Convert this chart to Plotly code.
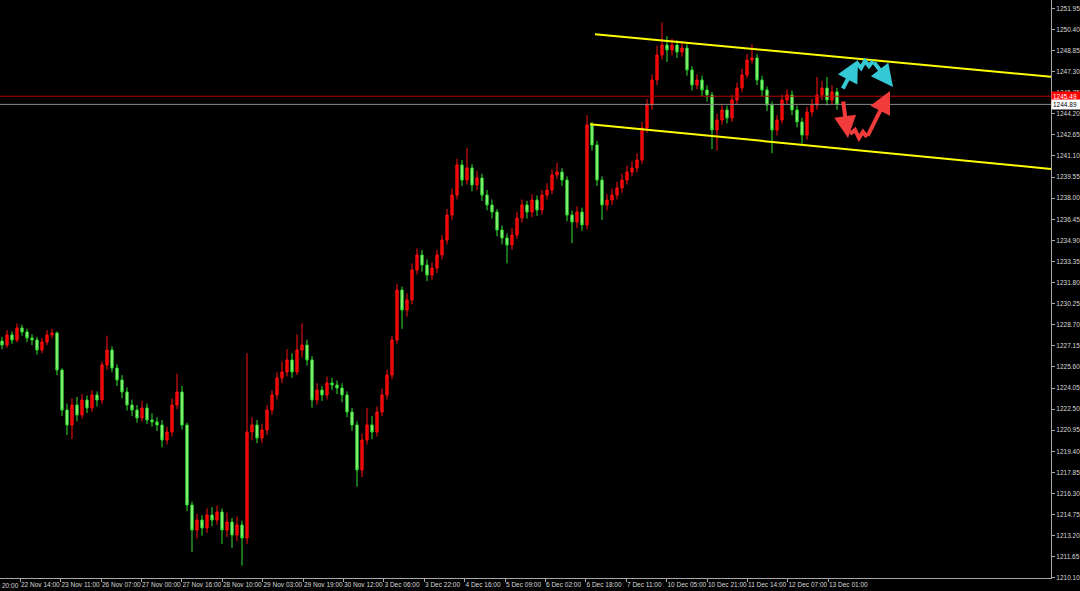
import plotly.graph_objects as go

# ---------------- data ----------------
open_ = [1227.5, 1227.21, 1227.95, 1227.58, 1228.46, 1228.17, 1227.73, 1227.58, 1226.84, 1227.43,
         1227.95, 1228.09, 1225.37, 1222.43, 1221.33, 1222.80, 1222.07, 1223.17, 1222.58, 1223.54,
         1223.17, 1225.74, 1226.84, 1225.52, 1224.64, 1223.76, 1222.80, 1222.43, 1221.85, 1222.58,
         1221.70, 1221.55, 1221.33, 1220.23, 1220.82, 1222.80, 1223.76, 1221.33, 1215.45, 1213.62,
         1214.35, 1213.76, 1214.72, 1214.35, 1214.94, 1213.62, 1214.20, 1213.25, 1213.98, 1213.03,
         1220.82, 1221.33, 1220.38, 1220.96, 1222.43, 1223.54, 1224.79, 1225.23, 1226.11, 1225.23,
         1226.84, 1227.21, 1226.11, 1223.17, 1223.90, 1223.54, 1224.42, 1224.27, 1224.05, 1223.54,
         1222.29, 1221.33, 1218.03, 1220.23, 1221.33, 1220.82, 1222.29, 1223.54, 1225.00, 1227.58,
         1231.25, 1229.78, 1230.52, 1232.72, 1233.82, 1233.09, 1232.35, 1232.87, 1233.82, 1234.92,
         1236.76, 1238.23, 1240.44, 1239.33, 1240.22, 1238.97, 1239.48, 1238.23, 1237.50, 1236.98,
         1235.66, 1235.07, 1234.56, 1235.29, 1236.54, 1237.50, 1236.98, 1237.86, 1237.13, 1238.23,
         1238.60, 1239.70, 1239.92, 1239.33, 1236.76, 1236.25, 1236.98, 1236.03, 1243.37, 1241.91,
         1239.33, 1237.50, 1237.86, 1238.23, 1238.75, 1239.33, 1239.92, 1240.22, 1240.80, 1243.15,
         1244.84, 1246.68, 1248.52, 1249.25, 1248.89, 1249.25, 1248.74, 1249.03, 1247.42, 1246.31,
         1246.68, 1245.95, 1245.58, 1243.01, 1243.74, 1244.48, 1243.89, 1245.21, 1246.09, 1247.05,
         1248.15, 1248.30, 1246.68, 1245.95, 1244.84, 1243.01, 1243.74, 1245.21, 1245.58, 1244.48,
         1243.60, 1242.64, 1244.33, 1244.84, 1245.58, 1246.09, 1245.21, 1245.80]

close = [1227.21, 1227.95, 1227.58, 1228.46, 1228.17, 1227.73, 1227.58, 1226.84, 1227.43, 1227.95,
         1228.09, 1225.37, 1222.43, 1221.33, 1222.80, 1222.07, 1223.17, 1222.58, 1223.54, 1223.17,
         1225.74, 1226.84, 1225.52, 1224.64, 1223.76, 1222.80, 1222.43, 1221.85, 1222.58, 1221.70,
         1221.55, 1221.33, 1220.23, 1220.82, 1222.80, 1223.76, 1221.33, 1215.45, 1213.62, 1214.35,
         1213.76, 1214.72, 1214.35, 1214.94, 1213.62, 1214.20, 1213.25, 1213.98, 1213.03, 1220.82,
         1221.33, 1220.38, 1220.96, 1222.43, 1223.54, 1224.79, 1225.23, 1226.11, 1225.23, 1226.84,
         1227.21, 1226.11, 1223.17, 1223.90, 1223.54, 1224.42, 1224.27, 1224.05, 1223.54, 1222.29,
         1221.33, 1218.03, 1220.23, 1221.33, 1220.82, 1222.29, 1223.54, 1225.00, 1227.58, 1231.25,
         1229.78, 1230.52, 1232.72, 1233.82, 1233.09, 1232.35, 1232.87, 1233.82, 1234.92, 1236.76,
         1238.23, 1240.44, 1239.33, 1240.22, 1238.97, 1239.48, 1238.23, 1237.50, 1236.98, 1235.66,
         1235.07, 1234.56, 1235.29, 1236.54, 1237.50, 1236.98, 1237.86, 1237.13, 1238.23, 1238.60,
         1239.70, 1239.92, 1239.33, 1236.76, 1236.25, 1236.98, 1236.03, 1243.37, 1241.91, 1239.33,
         1237.50, 1237.86, 1238.23, 1238.75, 1239.33, 1239.92, 1240.22, 1240.80, 1243.15, 1244.84,
         1246.68, 1248.52, 1249.25, 1248.89, 1249.25, 1248.74, 1249.03, 1247.42, 1246.31, 1246.68,
         1245.95, 1245.58, 1243.01, 1243.74, 1244.48, 1243.89, 1245.21, 1246.09, 1247.05, 1248.15,
         1248.30, 1246.68, 1245.95, 1244.84, 1243.01, 1243.74, 1245.21, 1245.58, 1244.48, 1243.60,
         1242.64, 1244.33, 1244.84, 1245.58, 1246.09, 1245.21, 1245.80, 1244.89]

high = [1227.8, 1228.3, 1228.2, 1228.8, 1228.7, 1228.4, 1228.0, 1227.8, 1227.7, 1228.3,
        1228.4, 1228.2, 1225.5, 1222.9, 1223.3, 1223.4, 1223.6, 1223.5, 1223.9, 1223.8,
        1226.0, 1227.9, 1227.1, 1225.8, 1225.0, 1224.1, 1223.2, 1222.8, 1223.1, 1222.9,
        1222.2, 1221.9, 1221.7, 1221.2, 1223.3, 1225.1, 1224.2, 1221.5, 1215.7, 1214.8,
        1214.7, 1215.2, 1215.3, 1215.4, 1215.2, 1214.9, 1214.5, 1214.6, 1214.3, 1226.6,
        1221.9, 1221.7, 1221.4, 1222.8, 1223.9, 1225.2, 1226.0, 1226.9, 1226.6, 1228.0,
        1228.8, 1227.6, 1226.4, 1224.4, 1224.2, 1224.9, 1224.8, 1224.6, 1224.4, 1223.8,
        1222.6, 1221.6, 1220.7, 1222.6, 1222.0, 1222.7, 1224.0, 1225.4, 1227.9, 1231.7,
        1231.5, 1231.0, 1233.2, 1234.3, 1234.2, 1233.5, 1233.3, 1234.2, 1235.3, 1237.2,
        1238.7, 1240.9, 1240.8, 1241.7, 1240.5, 1240.0, 1239.8, 1238.6, 1237.9, 1237.2,
        1236.0, 1235.4, 1235.8, 1237.0, 1237.9, 1237.8, 1238.3, 1238.2, 1238.6, 1239.1,
        1240.1, 1240.6, 1240.2, 1239.6, 1237.1, 1237.4, 1237.3, 1244.1, 1243.6, 1242.2,
        1239.6, 1238.3, 1238.7, 1239.2, 1239.8, 1240.4, 1240.7, 1241.3, 1243.6, 1245.3,
        1247.1, 1249.2, 1250.9, 1249.9, 1249.7, 1249.6, 1249.5, 1249.3, 1247.7, 1247.1,
        1247.0, 1246.3, 1245.8, 1244.2, 1244.9, 1244.8, 1245.6, 1246.5, 1247.5, 1248.6,
        1249.3, 1248.6, 1247.0, 1246.2, 1245.1, 1244.1, 1245.6, 1246.0, 1245.9, 1244.8,
        1243.9, 1244.7, 1245.3, 1246.9, 1246.6, 1246.9, 1246.3, 1246.1]

low = [1226.9, 1227.0, 1227.3, 1227.4, 1227.9, 1227.4, 1227.2, 1226.5, 1226.6, 1227.2,
       1227.7, 1225.0, 1222.0, 1220.6, 1220.3, 1221.6, 1221.8, 1222.2, 1222.3, 1222.7,
       1222.9, 1225.4, 1225.2, 1224.2, 1223.3, 1222.4, 1222.0, 1221.5, 1221.6, 1221.4,
       1221.2, 1220.9, 1219.7, 1219.9, 1220.5, 1222.5, 1221.0, 1215.0, 1212.0, 1213.0,
       1213.2, 1213.4, 1213.9, 1214.0, 1212.6, 1213.1, 1212.3, 1212.8, 1211.0, 1212.6,
       1220.2, 1220.0, 1220.0, 1220.6, 1222.1, 1223.2, 1224.4, 1224.9, 1224.8, 1225.0,
       1226.3, 1225.7, 1222.6, 1222.8, 1223.1, 1223.2, 1223.9, 1223.6, 1223.0, 1221.9,
       1220.9, 1216.8, 1217.5, 1219.9, 1220.3, 1220.5, 1222.0, 1223.2, 1224.7, 1227.3,
       1228.4, 1229.3, 1230.2, 1232.4, 1232.6, 1231.9, 1232.0, 1232.5, 1233.5, 1234.6,
       1236.4, 1237.9, 1238.9, 1239.0, 1238.5, 1238.6, 1237.8, 1237.1, 1236.5, 1235.2,
       1234.6, 1233.2, 1234.2, 1235.0, 1236.2, 1236.5, 1236.6, 1236.7, 1236.8, 1237.9,
       1238.3, 1239.4, 1238.9, 1236.3, 1234.7, 1235.8, 1235.6, 1235.7, 1241.5, 1238.9,
       1236.4, 1237.1, 1237.5, 1237.9, 1238.4, 1239.0, 1239.6, 1239.9, 1240.5, 1242.8,
       1244.5, 1246.3, 1248.2, 1248.0, 1248.5, 1248.3, 1248.4, 1247.0, 1245.9, 1246.0,
       1245.5, 1245.1, 1241.6, 1241.5, 1243.4, 1243.5, 1243.6, 1244.9, 1245.8, 1246.8,
       1247.9, 1246.3, 1245.5, 1244.4, 1241.3, 1242.6, 1243.5, 1244.9, 1244.1, 1243.2,
       1242.0, 1242.3, 1244.0, 1244.5, 1245.2, 1244.8, 1244.9, 1244.5]

bar_index = list(range(len(close)))

x_tick_index = [3.6, 11.7, 19.8, 27.8, 35.9, 44.0, 52.1, 60.2, 68.2, 76.3, 84.4,
                92.5, 100.6, 108.6, 116.7, 124.8, 132.9, 141.0, 149.0, 157.1, 165.2]
x_tick_text = ["22 Nov 14:00", "23 Nov 11:00", "26 Nov 07:00", "27 Nov 00:00", "27 Nov 16:00",
               "28 Nov 10:00", "29 Nov 03:00", "29 Nov 19:00", "30 Nov 12:00", "3 Dec 06:00",
               "3 Dec 22:00", "4 Dec 16:00", "5 Dec 09:00", "6 Dec 02:00", "6 Dec 18:00",
               "7 Dec 11:00", "10 Dec 05:00", "10 Dec 21:00", "11 Dec 14:00", "12 Dec 07:00",
               "13 Dec 01:00"]
y_tick_vals = [1210.10, 1211.65, 1213.20, 1214.75, 1216.30, 1217.85, 1219.40, 1220.95,
               1222.50, 1224.05, 1225.60, 1227.15, 1228.70, 1230.25, 1231.80, 1233.35,
               1234.90, 1236.45, 1238.00, 1239.55, 1241.10, 1242.65, 1244.20, 1245.75,
               1247.30, 1248.85, 1250.40, 1251.95]

upper_channel_x = [118.6, 209.8]
upper_channel_y = [1250.04, 1246.92]
lower_channel_x = [117.6, 209.8]
lower_channel_y = [1243.43, 1240.15]
ask_price = 1245.49
bid_price = 1244.89

# drawn arrows (chart objects)
cyan_up = [(168.0, 1245.95), (171.2, 1248.15)]
cyan_zig_x = [171.0, 171.8, 172.6, 173.4, 174.2]
cyan_zig_y = [1247.93, 1247.56, 1248.08, 1247.71, 1248.08]
cyan_down = [(174.2, 1248.08), (178.2, 1246.17)]
red_down = [(168.2, 1245.21), (169.2, 1242.42)]
red_zig_x = [169.6, 170.6, 171.4, 172.2, 173.0]
red_zig_y = [1242.71, 1243.01, 1242.42, 1242.86, 1242.49]
red_up = [(173.0, 1242.49), (177.6, 1245.87)]

# ---------------- figure ----------------
X_RANGE = [-0.4, 209.8]
Y_RANGE = [1210.09, 1252.56]
AXIS_FONT = dict(family="Liberation Sans, Arial, sans-serif", size=6.5, color="#d8d8d8")
CYAN = "#35c9d6"
ARROW_RED = "#f23c3c"

fig = go.Figure()

# ask / bid lines
fig.add_trace(go.Scatter(x=X_RANGE, y=[ask_price, ask_price], mode="lines",
                         line=dict(color="#b40000", width=1), hoverinfo="skip", showlegend=False))
fig.add_trace(go.Scatter(x=X_RANGE, y=[bid_price, bid_price], mode="lines",
                         line=dict(color="#8a8a8a", width=1), hoverinfo="skip", showlegend=False))

fig.add_trace(go.Candlestick(
    x=bar_index, open=open_, high=high, low=low, close=close,
    increasing=dict(line=dict(color="#ff1010", width=1), fillcolor="#e80000"),
    decreasing=dict(line=dict(color="#30e030", width=1), fillcolor="#a8f590"),
    whiskerwidth=0, showlegend=False, hoverinfo="skip"))

# channel lines
fig.add_trace(go.Scatter(x=upper_channel_x, y=upper_channel_y, mode="lines",
                         line=dict(color="#ffff00", width=2), hoverinfo="skip", showlegend=False))
fig.add_trace(go.Scatter(x=lower_channel_x, y=lower_channel_y, mode="lines",
                         line=dict(color="#ffff00", width=2), hoverinfo="skip", showlegend=False))

# zigzags of the drawn arrows
fig.add_trace(go.Scatter(x=cyan_zig_x, y=cyan_zig_y, mode="lines",
                         line=dict(color=CYAN, width=4), hoverinfo="skip", showlegend=False))
fig.add_trace(go.Scatter(x=red_zig_x, y=red_zig_y, mode="lines",
                         line=dict(color=ARROW_RED, width=4), hoverinfo="skip", showlegend=False))

for seg, col in [(cyan_up, CYAN), (cyan_down, CYAN), (red_down, ARROW_RED), (red_up, ARROW_RED)]:
    (x0, y0), (x1, y1) = seg
    fig.add_annotation(x=x1, y=y1, ax=x0, ay=y0, xref="x", yref="y", axref="x", ayref="y",
                       showarrow=True, arrowhead=2, arrowsize=1.1, arrowwidth=4,
                       arrowcolor=col, text="")

# price boxes on the axis
fig.add_annotation(x=1.0, y=ask_price, xref="paper", yref="y", xanchor="left", yanchor="middle",
                   text=f"{ask_price:.2f}", showarrow=False, bgcolor="#ff0000",
                   font=dict(family=AXIS_FONT["family"], size=6.5, color="#ffffff"),
                   borderpad=1, width=27, align="left")
fig.add_annotation(x=1.0, y=bid_price, xref="paper", yref="y", xanchor="left", yanchor="middle",
                   text=f"{bid_price:.2f}", showarrow=False, bgcolor="#ffffff",
                   font=dict(family=AXIS_FONT["family"], size=6.5, color="#000000"),
                   borderpad=1, width=27, align="left")

# truncated first time label
fig.add_annotation(x=0, y=0, xref="paper", yref="paper", xanchor="left", yanchor="top",
                   yshift=-2, text="20:00", showarrow=False, font=AXIS_FONT)

fig.update_layout(
    width=1080, height=591,
    margin=dict(l=0, r=29, t=0, b=13, pad=0, autoexpand=False),
    paper_bgcolor="#000000", plot_bgcolor="#000000",
    showlegend=False, boxgap=0.35,
)
fig.update_xaxes(
    range=X_RANGE, rangeslider_visible=False, showgrid=False, zeroline=False,
    showline=True, linecolor="#a8a8a8", linewidth=1, automargin=False,
    tickmode="array", tickvals=x_tick_index, ticktext=x_tick_text, tickangle=0,
    ticks="outside", ticklen=3, tickcolor="#a8a8a8",
    ticklabelposition="outside right", tickfont=AXIS_FONT,
)
fig.update_yaxes(
    range=Y_RANGE, side="right", showgrid=False, zeroline=False,
    showline=True, linecolor="#a8a8a8", linewidth=1, automargin=False,
    tickmode="array", tickvals=y_tick_vals, tickformat=".2f",
    ticks="outside", ticklen=3, tickcolor="#a8a8a8", tickfont=AXIS_FONT,
)

fig.write_html("out.html", config={"displayModeBar": False},
               post_script="document.body.style.margin='0px';document.body.style.background='#000';")
